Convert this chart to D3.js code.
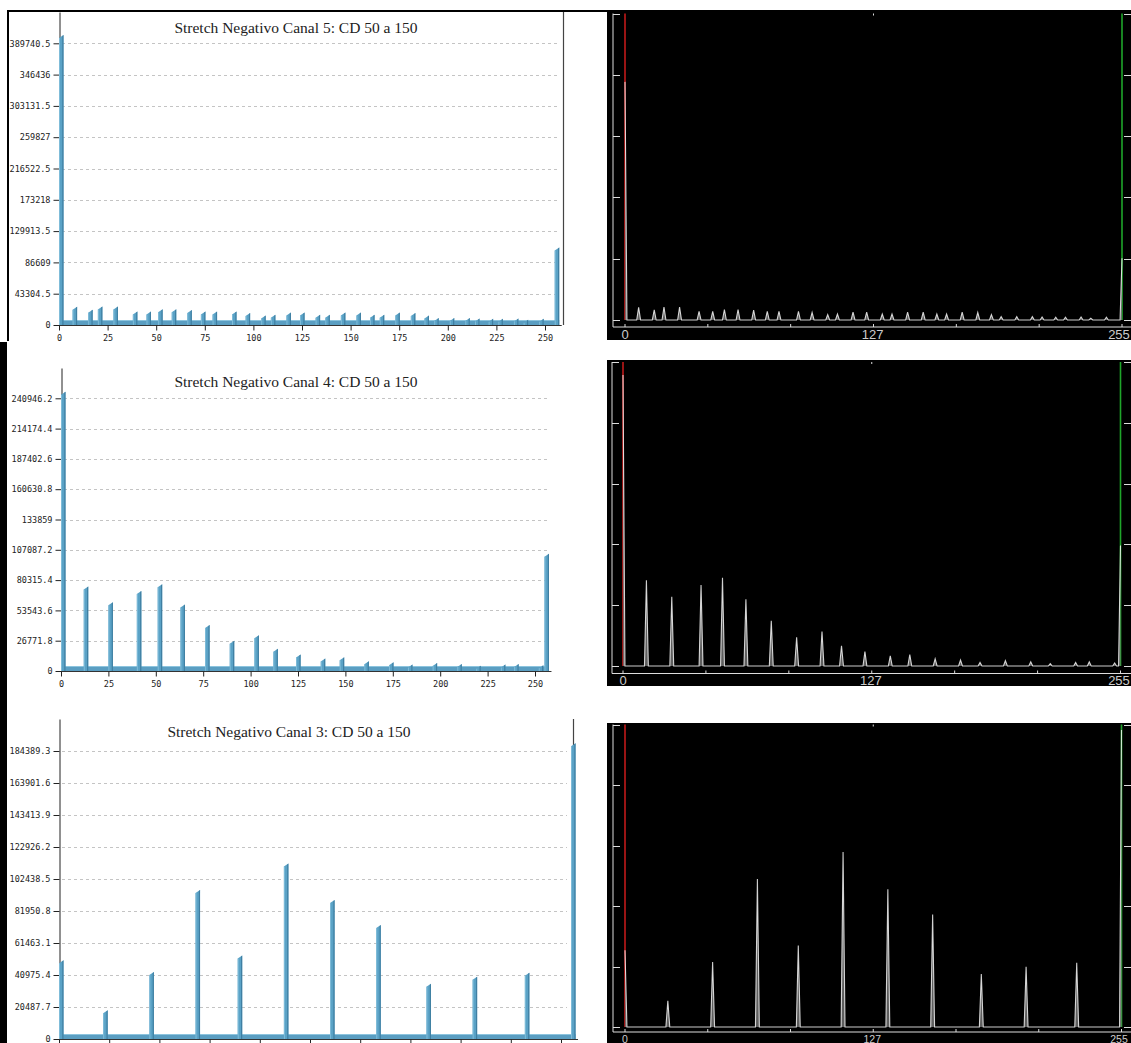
<!DOCTYPE html>
<html><head><meta charset="utf-8">
<script src="https://cdn.jsdelivr.net/npm/d3@7"></script>
<style>body{margin:0;background:#fff}svg{display:block}</style>
</head><body>
<svg id="c" width="1131" height="1043"></svg>
<script>
// ---------- DATA ----------
const titles = [
  "Stretch Negativo Canal 5: CD 50 a 150",
  "Stretch Negativo Canal 4: CD 50 a 150",
  "Stretch Negativo Canal 3: CD 50 a 150"
];
const xTickValues = [0, 25, 50, 75, 100, 125, 150, 175, 200, 225, 250];
const yTicksCanal5 = [0, 43304.5, 86609, 129913.5, 173218, 216522.5, 259827, 303131.5, 346436, 389740.5];
const yTicksCanal4 = [0, 26771.8, 53543.6, 80315.4, 107087.2, 133859, 160630.8, 187402.6, 214174.4, 240946.2];
const yTicksCanal3 = [0, 20487.7, 40975.4, 61463.1, 81950.8, 102438.5, 122926.2, 143413.9, 163901.6, 184389.3];

const binsCanal5 = [0, 7, 15, 20, 28, 38, 45, 51, 58, 66, 73, 79, 89, 96, 104, 109, 117, 124, 132, 137, 145, 153, 160, 165, 173, 181, 188, 193, 201, 209, 214, 221, 226, 234, 239, 247, 255];
const countsCanal5 = [397000, 21000, 17000, 21500, 21500, 14500, 14500, 17500, 17500, 16500, 14500, 14500, 14500, 12500, 9000, 10000, 13000, 13000, 10000, 10000, 13000, 13000, 10000, 10000, 13000, 12500, 9000, 5500, 5500, 5500, 5000, 4500, 4500, 5000, 3000, 4500, 103000];

const binsCanal4 = [0, 12, 25, 40, 51, 63, 76, 89, 102, 112, 124, 137, 147, 160, 173, 183, 196, 209, 219, 232, 239, 252, 255];
const countsCanal4 = [244000, 72000, 58000, 68000, 74000, 56000, 38000, 24000, 29000, 17000, 12000, 8500, 9500, 6000, 5000, 3000, 4500, 3500, 2000, 3000, 3500, 2500, 101000];

const binsCanal3 = [0, 22, 45, 68, 89, 112, 135, 158, 183, 206, 232, 255];
const countsCanal3 = [48500, 16500, 41000, 93500, 51500, 110500, 87000, 71000, 33500, 38000, 40500, 187500];

const rightTickLabels = [0, 127, 255];
const rightMinorTicks = [0, 42.5, 85, 127.5, 170, 212.5, 255];

// ---------- DRAW ----------
const svg = d3.select('#c');
const MONO = "'DejaVu Sans Mono', monospace";

// frames
svg.append('line').attr('x1', 7).attr('x2', 607).attr('y1', 11).attr('y2', 11).attr('stroke', '#000').attr('stroke-width', 2);
svg.append('line').attr('x1', 8).attr('x2', 8).attr('y1', 10).attr('y2', 341).attr('stroke', '#000').attr('stroke-width', 2);
svg.append('rect').attr('x', 0).attr('y', 342).attr('width', 7).attr('height', 701).attr('fill', '#000');

function drawLeft(cfg) {
  const x = d3.scaleLinear().domain([0, 250]).range(cfg.xRange);
  const yMax = cfg.yTicks[cfg.yTicks.length - 1] + cfg.yTicks[1];
  const y = d3.scaleLinear().domain([0, yMax]).range(cfg.yRange);
  const g = svg.append('g');
  const base = y(0);

  // gridlines
  g.selectAll('line.grid').data(cfg.yTicks.slice(1)).join('line')
    .attr('x1', x(0) + 3).attr('x2', cfg.gridEnd)
    .attr('y1', d => Math.round(y(d)) + 0.5).attr('y2', d => Math.round(y(d)) + 0.5)
    .attr('stroke', '#c4c4c4').attr('stroke-dasharray', '3,3');

  // title
  g.append('text').attr('x', cfg.titleX).attr('y', cfg.titleY)
    .attr('text-anchor', 'middle').attr('font-family', "'Liberation Serif', 'Times New Roman', serif")
    .attr('font-size', 15.5).attr('fill', '#222').text(cfg.title);

  // right border
  if (cfg.border) {
    g.append('line').attr('x1', cfg.border).attr('x2', cfg.border)
      .attr('y1', cfg.yRange[1]).attr('y2', base).attr('stroke', '#444').attr('stroke-width', 1.2);
  }

  // y axis
  const ya = g.append('g').attr('transform', `translate(${Math.round(x(0)) + 0.5},0)`)
    .call(d3.axisLeft(y).tickValues(cfg.yTicks).tickFormat(d => String(d)).tickSize(6).tickSizeOuter(0).tickPadding(3));
  ya.select('.domain').attr('stroke', '#222');
  ya.selectAll('.tick line').attr('stroke', '#222');
  ya.selectAll('text').attr('font-family', MONO).attr('font-size', 8.5).attr('fill', '#222');

  // x axis
  const xa = g.append('g').attr('transform', `translate(0,${Math.round(base) + 0.5})`)
    .call(d3.axisBottom(x).tickValues(xTickValues)
      .tickFormat(cfg.showXLabels ? (d => String(d)) : () => '')
      .tickSize(5).tickSizeOuter(0).tickPadding(4));
  xa.select('.domain').attr('d', `M${x(0)},0H${x(255) + 7}`).attr('stroke', '#333');
  xa.selectAll('.tick line').attr('stroke', '#222');
  xa.selectAll('text').attr('font-family', MONO).attr('font-size', 8.5).attr('fill', '#222');
  if (!cfg.showXLabels) xa.selectAll('text').remove();

  // base strip (zero-valued bins, 3D base)
  const w = 4.5, dy = 3;
  g.append('rect').attr('x', x(0)).attr('y', base - 4.5).attr('width', x(255) + w - x(0)).attr('height', 4.5)
    .attr('fill', '#5a9ec2');
  g.append('line').attr('x1', x(0)).attr('x2', x(255) + w).attr('y1', base - 4.5).attr('y2', base - 4.5)
    .attr('stroke', '#8cc4de').attr('stroke-width', 1);

  // bars
  const data = cfg.bins.map((b, i) => ({ b, v: cfg.counts[i] }));
  const bars = g.selectAll('g.bar').data(data).join('g');
  bars.append('path')
    .attr('d', d => {
      const xl = x(d.b), yv = y(d.v);
      return `M${xl},${base}V${yv}L${xl + w},${yv - dy}V${base}Z`;
    })
    .attr('fill', '#5aa2c6');
  bars.append('path')
    .attr('d', d => {
      const xl = x(d.b), yv = y(d.v);
      return `M${xl + w - 1.2},${yv - dy + 1}L${xl + w},${yv - dy}V${base}H${xl + w - 1.2}Z`;
    })
    .attr('fill', '#3f7fa2');
  bars.append('line')
    .attr('x1', d => x(d.b) + 0.5).attr('x2', d => x(d.b) + 0.5)
    .attr('y1', d => y(d.v)).attr('y2', base)
    .attr('stroke', '#7fbcd9').attr('stroke-width', 1);
}

function drawRight(cfg) {
  const x = d3.scaleLinear().domain([0, 255]).range(cfg.xRange);
  const y = d3.scaleLinear().domain([0, cfg.yMax]).range([cfg.base, cfg.top]);
  const g = svg.append('g');
  g.append('rect').attr('x', cfg.box[0]).attr('y', cfg.box[1]).attr('width', 1131 - cfg.box[0])
    .attr('height', cfg.box[2] - cfg.box[1]).attr('fill', '#000');

  // left axis + ticks
  g.append('line').attr('x1', cfg.axisX).attr('x2', cfg.axisX).attr('y1', cfg.top).attr('y2', cfg.axisY)
    .attr('stroke', '#ddd').attr('stroke-width', 1);
  const tv = d3.range(6).map(i => cfg.yMax * i / 5);
  g.selectAll('line.lt').data(tv).join('line')
    .attr('x1', cfg.axisX).attr('x2', cfg.axisX + 7)
    .attr('y1', d => Math.round(y(d)) + 0.5).attr('y2', d => Math.round(y(d)) + 0.5)
    .attr('stroke', '#ddd');
  g.selectAll('line.rt').data(tv).join('line')
    .attr('x1', 1124).attr('x2', 1131)
    .attr('y1', d => Math.round(y(d)) + 0.5).attr('y2', d => Math.round(y(d)) + 0.5)
    .attr('stroke', '#ddd');

  // bottom axis
  g.append('line').attr('x1', cfg.axisX).attr('x2', 1131).attr('y1', cfg.axisY).attr('y2', cfg.axisY)
    .attr('stroke', '#ddd').attr('stroke-width', 1.2);
  g.selectAll('line.bt').data(rightMinorTicks).join('line')
    .attr('x1', d => x(d)).attr('x2', d => x(d))
    .attr('y1', cfg.axisY).attr('y2', cfg.axisY - 3).attr('stroke', '#ddd');
  g.append('line').attr('x1', x(127.5)).attr('x2', x(127.5)).attr('y1', cfg.top).attr('y2', cfg.top + 2)
    .attr('stroke', '#ddd');
  g.selectAll('text.bl').data(rightTickLabels).join('text')
    .attr('x', d => Math.min(x(d), 1119)).attr('y', cfg.labelY).attr('text-anchor', 'middle')
    .attr('font-family', "'Liberation Sans', Arial, sans-serif").attr('font-size', cfg.labelSize)
    .attr('fill', '#ccc').text(d => String(d));

  // cutoff lines
  g.append('line').attr('x1', x(0)).attr('x2', x(0)).attr('y1', cfg.top).attr('y2', cfg.base)
    .attr('stroke', '#c01a1a').attr('stroke-width', 1.6);
  g.append('line').attr('x1', x(255)).attr('x2', x(255)).attr('y1', cfg.top).attr('y2', cfg.base)
    .attr('stroke', '#1fa52a').attr('stroke-width', 1.6);

  // histogram
  const hist = d3.range(256).map(() => 0);
  cfg.bins.forEach((b, i) => { hist[b] = cfg.counts[i]; });
  const pts = hist.map((v, i) => [i, v]);
  g.append('path').datum(pts)
    .attr('d', d3.area().x(d => x(d[0])).y0(cfg.base).y1(d => y(d[1])))
    .attr('fill', '#777').attr('fill-opacity', 0.8);
  g.append('path').datum(pts)
    .attr('d', d3.line().x(d => x(d[0])).y(d => y(d[1])))
    .attr('fill', 'none').attr('stroke', '#fff').attr('stroke-opacity', 0.8).attr('stroke-width', 1.1);
}

const leftCfgs = [
  { title: titles[0], bins: binsCanal5, counts: countsCanal5, yTicks: yTicksCanal5, showXLabels: true,
    xRange: [59, 545], yRange: [325, 12], gridEnd: 560, border: 563.5, titleX: 296, titleY: 33 },
  { title: titles[1], bins: binsCanal4, counts: countsCanal4, yTicks: yTicksCanal4, showXLabels: true,
    xRange: [61, 535], yRange: [671, 368], gridEnd: 550, border: null, titleX: 296, titleY: 387 },
  { title: titles[2], bins: binsCanal3, counts: countsCanal3, yTicks: yTicksCanal3, showXLabels: false,
    xRange: [59, 561], yRange: [1039, 719], gridEnd: 567, border: 573.5, titleX: 289, titleY: 737 }
];
leftCfgs.forEach(drawLeft);

const rightCfgs = [
  { bins: binsCanal5, counts: countsCanal5, yMax: 511000, xRange: [625, 1122], box: [607, 10, 340],
    top: 13.5, base: 320, axisX: 613, axisY: 327, labelY: 339, labelSize: 13 },
  { bins: binsCanal4, counts: countsCanal4, yMax: 255000, xRange: [623, 1120.5], box: [607, 360, 686],
    top: 362, base: 666, axisX: 612, axisY: 673.5, labelY: 685, labelSize: 13 },
  { bins: binsCanal3, counts: countsCanal3, yMax: 191000, xRange: [625, 1121.5], box: [607, 723, 1043],
    top: 724.5, base: 1027, axisX: 613, axisY: 1032, labelY: 1042.5, labelSize: 10.5 }
];
rightCfgs.forEach(drawRight);
</script>
</body></html>
